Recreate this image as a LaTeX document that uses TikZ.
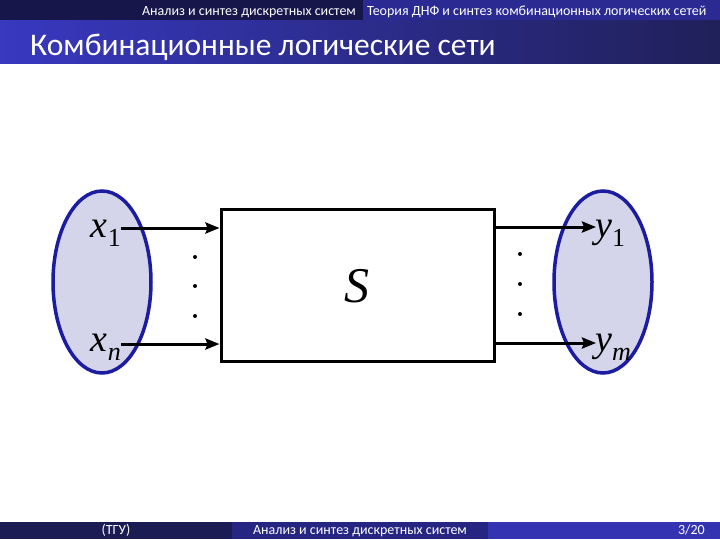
\documentclass[tikz,border=0pt]{standalone}
\usepackage{fontspec}
\setmainfont{Liberation Serif}
\newfontfamily\hdr{Carlito}
\usetikzlibrary{arrows.meta,shapes.geometric}
\definecolor{navyA}{HTML}{16164A}
\definecolor{blueA}{HTML}{2A2A92}
\definecolor{titleL}{HTML}{3838C0}
\definecolor{titleR}{HTML}{20205A}
\definecolor{footA}{HTML}{1C1C55}
\definecolor{footB}{HTML}{262682}
\definecolor{footC}{HTML}{3434B2}
\definecolor{ellFill}{HTML}{D4D4EA}
\definecolor{ellDraw}{HTML}{1C1CA0}
\tikzset{
  setell/.style={ellipse, draw=ellDraw, fill=ellFill, line width=3.5pt, minimum width=98pt, minimum height=182pt, inner sep=0pt},
  sysbox/.style={draw=black, line width=3pt, fill=white, minimum width=273pt, minimum height=152pt, inner sep=0pt},
  sig/.style={line width=3pt, -{Stealth[length=14pt,width=11pt,inset=2pt]}},
  vdot/.style={circle, fill=black, inner sep=0pt, minimum size=4pt},
  lbl/.style={inner sep=0pt, font=\fontsize{38}{40}\selectfont\itshape},
  hdrtxt/.style={text=white, inner sep=0pt, font=\hdr\fontsize{14}{16}\selectfont},
}
\begin{document}
\begin{tikzpicture}[x=1pt,y=-1pt]
\useasboundingbox (0,0) rectangle (720,539);
% header
\fill[navyA] (0,0) rectangle (363,20);
\fill[blueA] (363,0) rectangle (720,20);
\shade[left color=titleL, right color=titleR] (0,20) rectangle (720,63);
\node[hdrtxt, anchor=base east] (h1) at (356,15) {Анализ и синтез дискретных систем};
\node[hdrtxt, anchor=base west] (h2) at (367,15) {Теория ДНФ и синтез комбинационных логических сетей};
\node[text=white, inner sep=0pt, anchor=base west, font=\hdr\fontsize{31.5}{34}\selectfont] (title) at (30,55) {Комбинационные логические сети};
% footer
\fill[footA] (0,522) rectangle (232,539);
\fill[footB] (232,522) rectangle (488,539);
\fill[footC] (488,522) rectangle (720,539);
\node[hdrtxt, anchor=base] (f1) at (116,534) {(ТГУ)};
\node[hdrtxt, anchor=base] (f2) at (360,534) {Анализ и синтез дискретных систем};
\node[hdrtxt, anchor=base east] (f3) at (705,534) {3/20};
% diagram
\node[setell] (L) at (102,282) {};
\node[setell] (R) at (603,282) {};
\node[sysbox] (S) at (357.5,285) {};
\node[inner sep=0pt, font=\fontsize{50}{50}\selectfont\itshape] (Sl) at (357,286) {S};
\node[lbl, anchor=base east] (x1) at (121,237) {x\raisebox{-9pt}{\upshape\fontsize{26}{26}\selectfont 1}};
\node[lbl, anchor=base east] (xn) at (121,351) {x\raisebox{-9pt}{\fontsize{26}{26}\selectfont n}};
\node[lbl, anchor=base west] (y1) at (595,237) {y\raisebox{-9pt}{\upshape\fontsize{26}{26}\selectfont 1}};
\node[lbl, anchor=base west] (ym) at (595,351) {y\raisebox{-9pt}{\fontsize{26}{26}\selectfont m}};
\coordinate (a1) at (121,228);
\coordinate (an) at (121,344);
\coordinate (b1) at (596,227);
\coordinate (bm) at (596,343);
\draw[sig] (a1) -- (a1 -| S.west);
\draw[sig] (an) -- (an -| S.west);
\draw[sig] (b1 -| S.east) -- (b1);
\draw[sig] (bm -| S.east) -- (bm);
\node[vdot] (d1) at (195,257) {};
\node[vdot] (d2) at (195,286) {};
\node[vdot] (d3) at (195,316) {};
\node[vdot] (e1) at (520,254) {};
\node[vdot] (e2) at (520,284) {};
\node[vdot] (e3) at (520,314) {};
\end{tikzpicture}
\end{document}
